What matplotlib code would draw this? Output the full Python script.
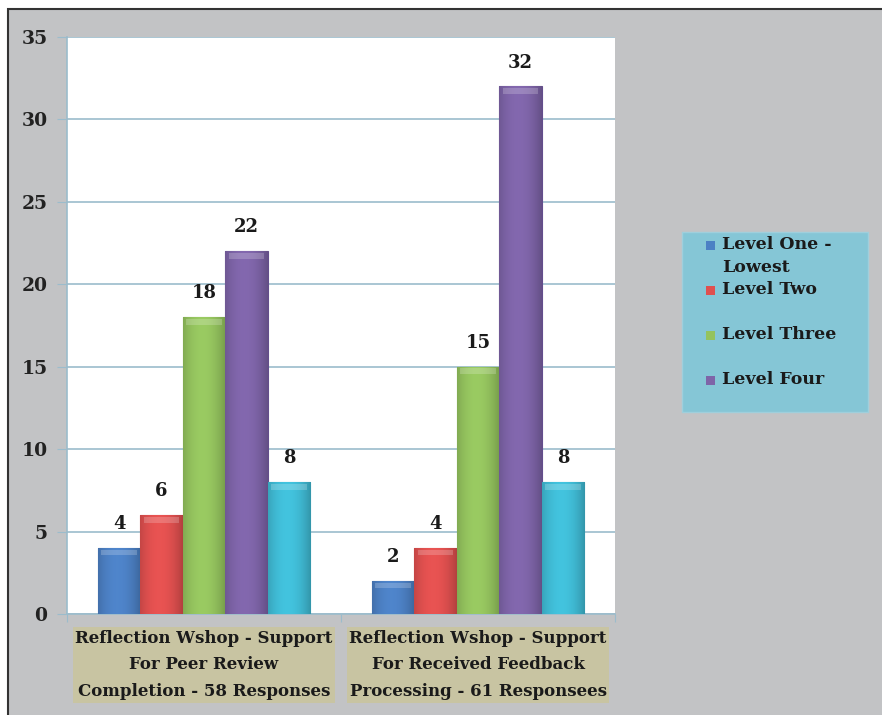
import numpy as np
import matplotlib.pyplot as plt
from matplotlib.patches import Rectangle
from matplotlib.colors import to_rgb

# data
categories = ["Reflection Wshop - Support\nFor Peer Review\nCompletion - 58 Responses",
              "Reflection Wshop - Support\nFor Received Feedback\nProcessing - 61 Responsees"]
series_names = ["Level One -\nLowest", "Level Two", "Level Three", "Level Four", ""]
level_one = [4, 2]
level_two = [6, 4]
level_three = [18, 15]
level_four = [22, 32]
level_five = [8, 8]
yticks = [0, 5, 10, 15, 20, 25, 30, 35]

values = [level_one, level_two, level_three, level_four, level_five]
colors = ["#4c80c4", "#e0504f", "#94c35e", "#7e64a8", "#40bcd6"]
edges = ["#3a67a3", "#b83b3b", "#76a344", "#634d8c", "#2c9ab4"]

plt.rcParams['font.family'] = ['DejaVu Serif']
plt.rcParams['font.weight'] = 'bold'

fig = plt.figure(figsize=(8.82, 7.15), dpi=100, facecolor="white")
W, H = 882.0, 715.0

# grey frame with dark border (top and left visible)
fig.patches.append(Rectangle((8 / W, -0.05), 1.1, 1 - 9 / H + 0.05, transform=fig.transFigure,
                             facecolor="#c2c3c5", edgecolor="#333333", linewidth=1.5, zorder=-5))

ax = fig.add_axes([67 / W, 1 - 614 / H, 548 / W, 577 / H])
ax.set_facecolor("white")
ax.set_zorder(2)


def shade(c):
    # soft horizontal gradient, a bit darker at the edges
    base = np.array(to_rgb(c))
    t = np.linspace(0, 1, 64)
    f = 1.04 - 0.2 * ((t - 0.45) * 2) ** 2
    img = np.clip(base[None, :] * f[:, None], 0, 1)
    return img[None, :, :]


x = np.arange(len(categories))
bw = 0.155
for i, (vals, c, ec) in enumerate(zip(values, colors, edges)):
    pos = x + (i - 2) * bw
    bars = ax.bar(pos, vals, width=bw, color=c, edgecolor=ec, linewidth=0.8, zorder=3,
                  label=series_names[i])
    for b in bars:
        x0, w_, h_ = b.get_x(), b.get_width(), b.get_height()
        im = ax.imshow(shade(c), extent=(x0, x0 + w_, 0, h_), aspect="auto",
                       zorder=3.5, interpolation="bilinear")
        im.set_clip_path(b)
        # lighter bevel at the top
        ax.add_patch(Rectangle((x0 + w_ * 0.08, h_ - 0.45), w_ * 0.84, 0.35,
                               facecolor="white", alpha=0.2, edgecolor="none", zorder=3.6))
    for px, v in zip(pos, vals):
        ax.text(px, v + 0.9, str(v), ha="center", va="bottom", fontsize=13,
                fontweight="bold", color="#1a1a1a", zorder=4)

ax.set_xlim(-0.5, 1.5)
ax.set_ylim(0, 35)
ax.set_yticks(yticks)
ax.set_yticklabels([str(t) for t in yticks], fontsize=13.5, fontweight="bold", color="#222222")
ax.yaxis.grid(True, color="#9bbccc", linewidth=1.2, zorder=0)
ax.set_axisbelow(True)
ax.tick_params(axis="y", length=7, color="#9bbccc", pad=7)
ax.set_xticks([-0.5, 0.5, 1.5])
ax.set_xticklabels(["", "", ""])
ax.tick_params(axis="x", length=6, color="#9bbccc", direction="out")
for s in ["top", "right"]:
    ax.spines[s].set_visible(False)
ax.spines["left"].set_color("#9bbccc")
ax.spines["bottom"].set_color("#9bbccc")
ax.spines["left"].set_linewidth(1.2)
ax.spines["bottom"].set_linewidth(1.2)

# category labels with tan boxes
for xi, cat in zip(x, categories):
    ax.text(xi, -0.95, cat, ha="center", va="top", fontsize=12, fontweight="bold",
            color="#1a1a1a", linespacing=1.75, transform=ax.transData,
            bbox=dict(boxstyle="square,pad=0.15", facecolor="#c8c4a2", edgecolor="none"))

# legend box drawn by hand
fig.patches.append(Rectangle((682 / W, 1 - 412 / H), 186 / W, 180 / H, transform=fig.transFigure,
                             facecolor="#85c6d6", edgecolor="#9fcfdc", linewidth=1, zorder=1))
legend_y = [245, 290, 335, 380]
for name, c, ly in zip(series_names[:4], colors, legend_y):
    fig.patches.append(Rectangle((706 / W, 1 - (ly + 5) / H), 9 / W, 9 / H, transform=fig.transFigure,
                                 facecolor=c, edgecolor="none", zorder=2))
    fig.text(722 / W, 1 - (ly - 9) / H, name, ha="left", va="top", fontsize=12.5,
             fontweight="bold", color="#1a1a1a", linespacing=1.45, zorder=3)

fig.savefig("out.png", dpi=100, facecolor=fig.get_facecolor())
